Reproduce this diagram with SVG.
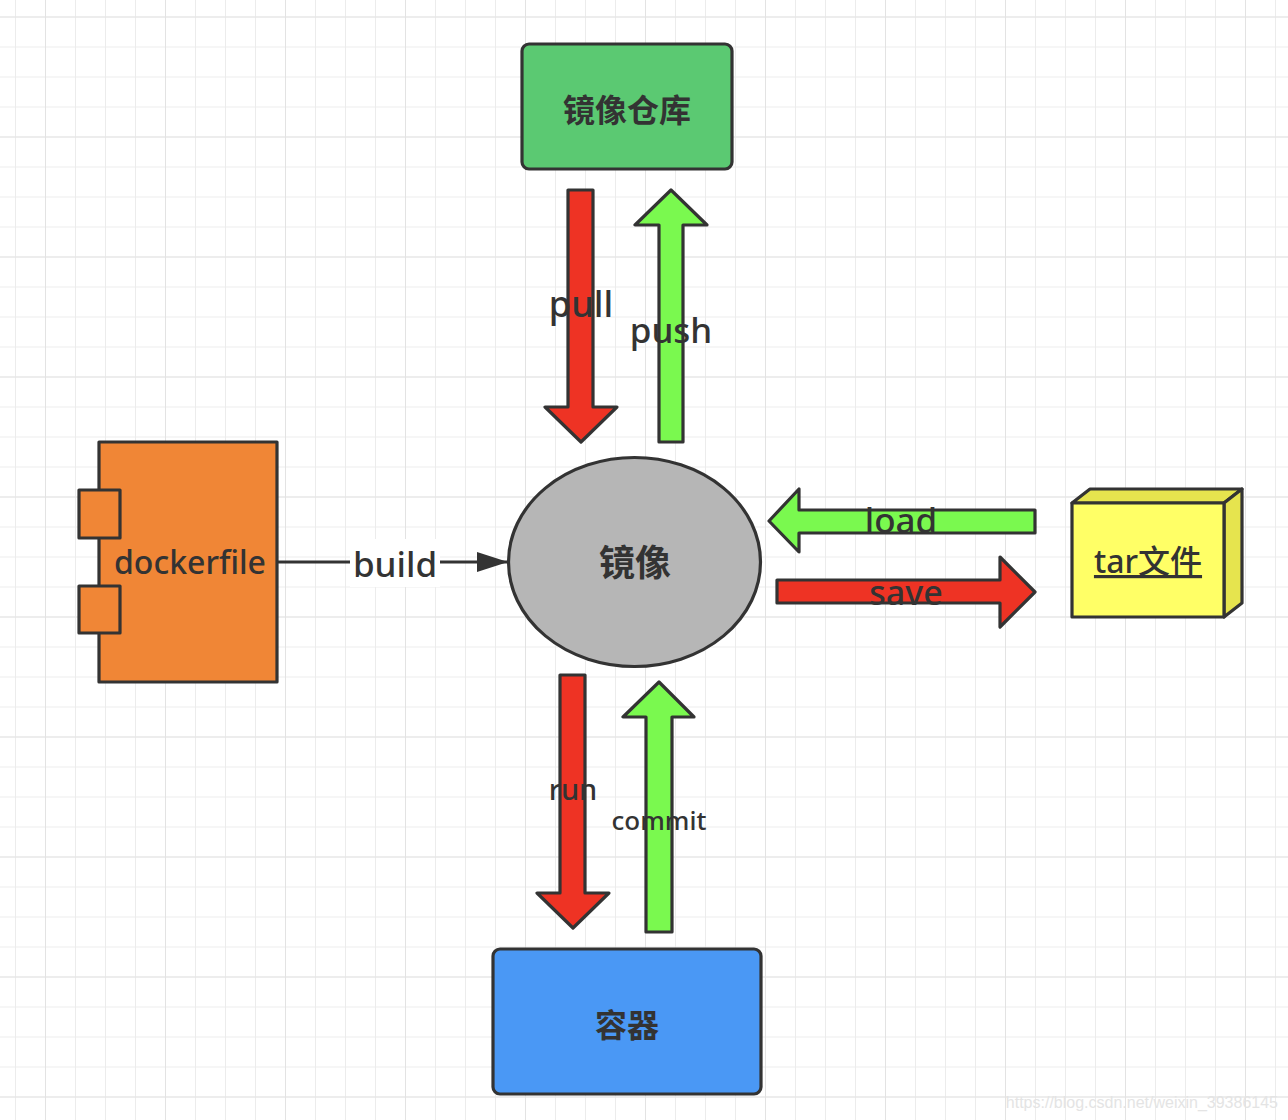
<svg xmlns="http://www.w3.org/2000/svg" width="1288" height="1120" viewBox="0 0 1288 1120">
<defs>
<pattern id="gridMinor" patternUnits="userSpaceOnUse" x="15" y="16.5" width="30" height="30">
<path d="M0 0V30M0 0H30" fill="none" stroke="#ececec" stroke-width="2"/>
</pattern>
<pattern id="gridMajor" patternUnits="userSpaceOnUse" x="45" y="16.5" width="120" height="120">
<path d="M0 0V120M0 0H120" fill="none" stroke="#e3e3e3" stroke-width="2"/>
</pattern>
<marker id="arrowHead" markerUnits="userSpaceOnUse" markerWidth="32" markerHeight="22" refX="31" refY="10" orient="auto">
<path d="M0 0L31 10L0 20Z" fill="#333333"/>
</marker>
<style>
.sh{stroke:#333333;stroke-width:3.2;stroke-linejoin:round}
.red{fill:#ee3324}
.grn{fill:#7af94f}
.lbl{font-family:"Noto Sans","Noto Sans CJK SC",sans-serif;font-weight:500;fill:#333333;text-anchor:middle}
.cjk{font-family:"Noto Sans CJK SC","Noto Sans",sans-serif;font-weight:bold;fill:#333333;text-anchor:middle;dominant-baseline:central}
</style>
</defs>
<rect width="1288" height="1120" fill="#ffffff"/>
<rect width="1288" height="1120" fill="url(#gridMinor)"/>
<rect width="1288" height="1120" fill="url(#gridMajor)"/>

<g id="connectors">
<g id="build">
<line x1="277" y1="562" x2="508" y2="562" stroke="#333333" stroke-width="3" marker-end="url(#arrowHead)"/>
<rect x="350" y="539" width="90" height="48" fill="#ffffff"/>
<text class="lbl" x="395" y="577" font-size="35">build</text>
</g>
<g id="pull">
<polygon class="sh red" points="568,190 593,190 593,407 617,407 581,442 545,407 568,407"/>
<text class="lbl" x="581" y="317" font-size="36">pull</text>
</g>
<g id="push">
<polygon class="sh grn" points="659,442 683,442 683,225 707,225 671,190 635,225 659,225"/>
<text class="lbl" x="671" y="343" font-size="35">push</text>
</g>
<g id="load">
<polygon class="sh grn" points="1035,510 1035,533 799,533 799,552 769,521 799,489 799,510"/>
<text class="lbl" x="901" y="533" font-size="35">load</text>
</g>
<g id="save">
<polygon class="sh red" points="777,580 1000,580 1000,557 1035,592 1000,627 1000,603 777,603"/>
<text class="lbl" x="906" y="605" font-size="34">save</text>
</g>
<g id="run">
<polygon class="sh red" points="560,675 585,675 585,893 609,893 573,928 537,893 560,893"/>
<text class="lbl" x="573" y="800" font-size="29">run</text>
</g>
<g id="commit">
<polygon class="sh grn" points="646,932 672,932 672,717 694,717 659,682 623,717 646,717"/>
<text class="lbl" x="659" y="830" font-size="26">commit</text>
</g>
</g>

<g id="registry">
<rect class="sh" x="522" y="44" width="210" height="125" rx="7" fill="#5bc972"/>
<text class="cjk" x="627" y="108" font-size="32">镜像仓库</text>
</g>

<g id="image">
<ellipse class="sh" cx="634.5" cy="562" rx="126" ry="104.5" fill="#b6b6b6"/>
<text class="cjk" x="635" y="560" font-size="36">镜像</text>
</g>

<g id="container">
<rect class="sh" x="493" y="949" width="268" height="145" rx="7" fill="#4a98f5"/>
<text class="cjk" x="627" y="1023" font-size="32">容器</text>
</g>

<g id="dockerfile">
<rect class="sh" x="99" y="442" width="178" height="240" fill="#f08636"/>
<rect class="sh" x="79" y="490" width="41" height="48" fill="#f08636"/>
<rect class="sh" x="79" y="586" width="41" height="47" fill="#f08636"/>
<text class="lbl" x="190" y="574" font-size="32">dockerfile</text>
</g>

<g id="tarfile">
<polygon class="sh" points="1072,503 1090,489 1242,489 1224,503" fill="#e6e44e"/>
<polygon class="sh" points="1224,503 1242,489 1242,603 1224,617" fill="#e6e44e"/>
<rect class="sh" x="1072" y="503" width="152" height="114" fill="#ffff66"/>
<text class="lbl" x="1148" y="573" font-size="32" text-decoration="underline">tar文件</text>
</g>

<text x="1278" y="1108" font-family="Liberation Sans, sans-serif" font-size="16" fill="#e4e4e4" text-anchor="end">https://blog.csdn.net/weixin_39386145</text>
</svg>
